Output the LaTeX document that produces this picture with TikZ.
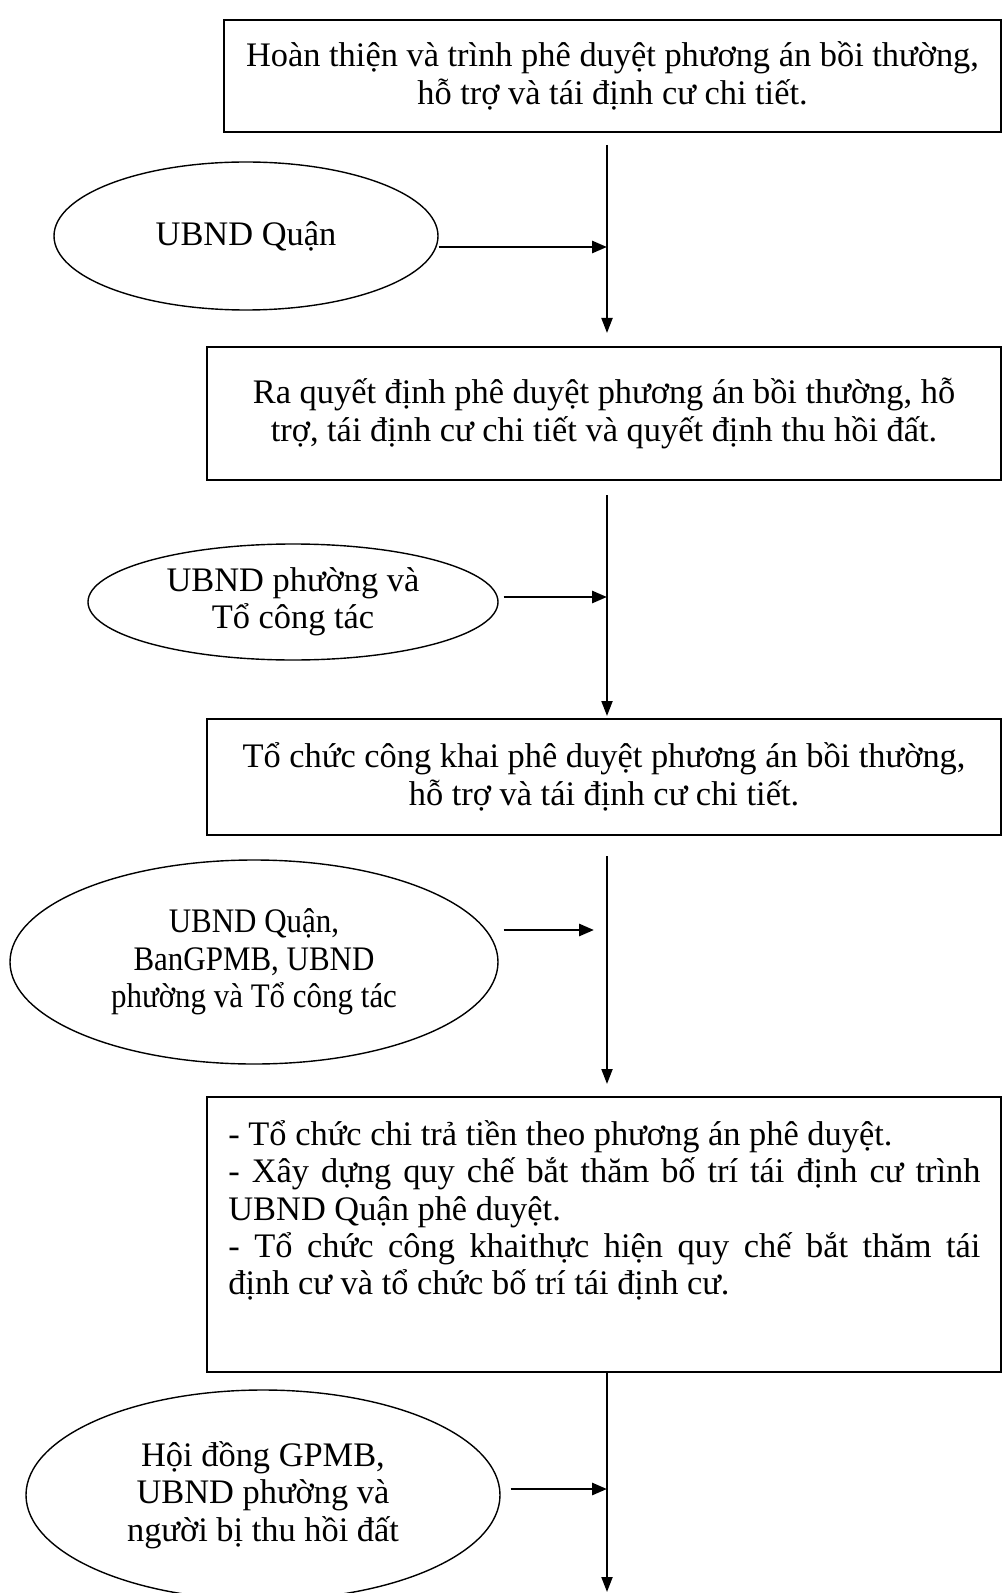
\documentclass[tikz,border=0pt]{standalone}
\usepackage{fontspec}
\setmainfont{Liberation Serif}
\usepackage{graphicx}
\usetikzlibrary{arrows.meta,positioning,shapes.geometric,calc}
\tikzset{
    stepbox/.style={
    rectangle,draw=black,line width=1pt,align=center,inner sep=0pt
    },
    actor/.style={
    ellipse,draw=black,line width=0.7pt,align=center,inner sep=0pt
    },
    flow/.style={
    -{Triangle[length=7.5pt,width=5.5pt]},line width=1pt
    },
    feed/.style={
    -{Triangle[length=7.5pt,width=6pt]},line width=1.4pt
    },
}
\newcommand{\txt}{\fontsize{17.2}{18.7}\selectfont}
\newcommand{\narrow}[1]{\scalebox{0.9}[1]{#1}}
\newcommand{\fullline}[1]{\makebox[376pt][s]{#1}}

\begin{document}
\begin{tikzpicture}[x=0.5pt, y=-0.5pt, font=\txt]
   \useasboundingbox (0,0) rectangle (1003,1593);
   % steps
   \node[stepbox,minimum width=388.5pt,minimum height=56pt] (b1) at (612.5,76)
     {Hoàn thiện và trình phê duyệt phương án bồi thường,\\ hỗ trợ và tái định cư chi tiết.};
   \node[stepbox,minimum width=397pt,minimum height=66.5pt] (b2) at (604,413.5)
     {Ra quyết định phê duyệt phương án bồi thường, hỗ\\ trợ, tái định cư chi tiết và quyết định thu hồi đất.};
   \node[stepbox,minimum width=397pt,minimum height=58pt] (b3) at (604,777)
     {Tổ chức công khai phê duyệt phương án bồi thường,\\ hỗ trợ và tái định cư chi tiết.};
   \node[stepbox,minimum width=397pt,minimum height=137.5pt] (b4) at (604,1234.5) {};
   \node[anchor=north west,align=left,inner sep=0pt] (t4) at (228,1120)
     {- Tổ chức chi trả tiền theo phương án phê duyệt.\\
      \fullline{- Xây dựng quy chế bắt thăm bố trí tái định cư trình}\\
      UBND Quận phê duyệt.\\
      \fullline{- Tổ chức công khaithực hiện quy chế bắt thăm tái}\\
      định cư và tổ chức bố trí tái định cư.};
   % actors
   \node[actor,minimum width=192pt,minimum height=74pt] (e1) at (246,236) {UBND Quận};
   \node[actor,minimum width=205pt,minimum height=58pt] (e2) at (293,602)
     {UBND phường và\\ Tổ công tác};
   \node[actor,minimum width=244pt,minimum height=102pt] (e3) at (254,962)
     {\narrow{UBND Quận,}\\ \narrow{BanGPMB, UBND}\\ \narrow{phường và Tổ công tác}};
   \node[actor,minimum width=237pt,minimum height=105pt] (e4) at (263,1495)
     {Hội đồng GPMB,\\ UBND phường và\\ người bị thu hồi đất};
   % spine
   \coordinate (s1) at (607,145);
   \coordinate (s2) at (607,333);
   \coordinate (s3) at (607,495);
   \coordinate (s4) at (607,716);
   \coordinate (s5) at (607,856);
   \coordinate (s6) at (607,1084);
   \coordinate (s7) at (607,1592);
   \coordinate (h1) at (607,247);
   \coordinate (h2) at (607,597);
   \coordinate (h3) at (594,930);
   \coordinate (h4) at (607,1489);

  \path[flow]
    (s1) edge (s2)
    (s3) edge (s4)
    (s5) edge (s6)
    (b4.south -| s7) edge (s7);
  \path[feed]
    (e1.east |- h1) edge (h1)
    (e2.east |- h2) edge[shorten <=2.5pt] (h2)
    (e3.east |- h3) edge[shorten <=2.5pt] (h3)
    (e4.east |- h4) edge[shorten <=5pt] (h4);
\end{tikzpicture}
\end{document}
